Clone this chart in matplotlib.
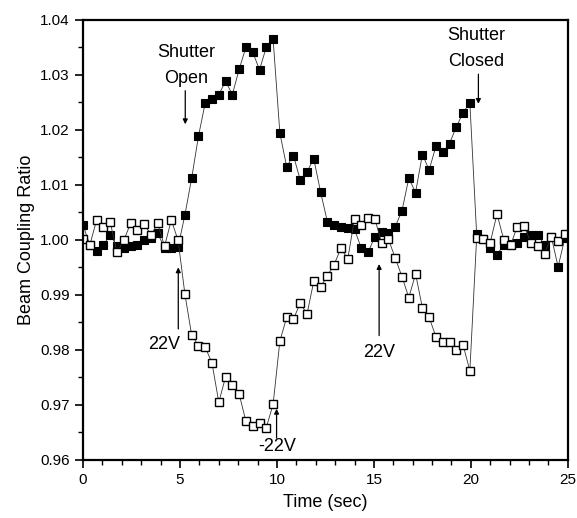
import matplotlib
matplotlib.use("Agg")
import matplotlib.pyplot as plt
from matplotlib.ticker import MultipleLocator

plt.rcParams['font.family'] = ['Liberation Sans', 'DejaVu Sans']

# sample times (sec)
time = [0.00, 0.35, 0.70, 1.05, 1.40, 1.75, 2.10, 2.45, 2.80, 3.15,
        3.50, 3.85, 4.20, 4.55, 4.90, 5.25, 5.60, 5.95, 6.30, 6.65,
        7.00, 7.35, 7.70, 8.05, 8.40, 8.75, 9.10, 9.45, 9.80, 10.15,
        10.50, 10.85, 11.20, 11.55, 11.90, 12.25, 12.60, 12.95, 13.30, 13.65,
        14.00, 14.35, 14.70, 15.05, 15.40, 15.75, 16.10, 16.45, 16.80, 17.15,
        17.50, 17.85, 18.20, 18.55, 18.90, 19.25, 19.60, 19.95, 20.30, 20.65,
        21.00, 21.35, 21.70, 22.05, 22.40, 22.75, 23.10, 23.45, 23.80, 24.15,
        24.50, 24.85]

# filled squares
ratio_filled = [1.0027, 0.9990, 0.9979, 0.9991, 1.0009, 0.9988, 0.9985, 0.9988, 0.9991, 1.0000,
                1.0004, 1.0012, 0.9985, 0.9985, 0.9987, 1.0045, 1.0112, 1.0188, 1.0249, 1.0255,
                1.0264, 1.0288, 1.0264, 1.0310, 1.0350, 1.0341, 1.0309, 1.0350, 1.0365, 1.0194,
                1.0133, 1.0153, 1.0109, 1.0124, 1.0147, 1.0087, 1.0033, 1.0027, 1.0024, 1.0021,
                1.0019, 0.9985, 0.9977, 1.0006, 1.0015, 1.0012, 1.0024, 1.0053, 1.0112, 1.0086,
                1.0155, 1.0127, 1.0170, 1.0159, 1.0175, 1.0205, 1.0231, 1.0249, 1.0010, 1.0001,
                0.9985, 0.9973, 0.9991, 0.9993, 0.9994, 1.0005, 1.0009, 1.0009, 0.9991, 1.0006,
                0.9951, 1.0003]

# open squares
ratio_open = [1.0002, 0.9991, 1.0036, 1.0024, 1.0032, 0.9977, 0.9999, 1.0030, 1.0017, 1.0029,
              1.0009, 1.0030, 0.9988, 1.0036, 0.9999, 0.9902, 0.9827, 0.9808, 0.9805, 0.9776,
              0.9705, 0.9751, 0.9736, 0.9720, 0.9670, 0.9662, 0.9667, 0.9659, 0.9701, 0.9816,
              0.9859, 0.9856, 0.9885, 0.9865, 0.9925, 0.9914, 0.9935, 0.9955, 0.9985, 0.9965,
              1.0038, 1.0027, 1.0039, 1.0038, 0.9994, 1.0001, 0.9967, 0.9933, 0.9895, 0.9938,
              0.9877, 0.9859, 0.9824, 0.9815, 0.9815, 0.9800, 0.9809, 0.9762, 1.0004, 1.0001,
              0.9995, 1.0047, 1.0000, 0.9991, 1.0024, 1.0025, 0.9995, 0.9989, 0.9975, 1.0005,
              0.9997, 1.0010]

fig = plt.figure(figsize=(5.77, 5.18), dpi=100)
ax = fig.add_axes([0.144, 0.112, 0.840, 0.850])

ax.plot(time, ratio_filled, color='#333333', lw=0.6, marker='s', ms=6.4,
        mfc='black', mec='black', mew=0.8)
ax.plot(time, ratio_open, color='#333333', lw=0.6, marker='s', ms=6.4,
        mfc='white', mec='black', mew=1.0)

ax.set_xlim(0, 25)
ax.set_ylim(0.96, 1.04)
ax.xaxis.set_major_locator(MultipleLocator(5))
ax.xaxis.set_minor_locator(MultipleLocator(1))
ax.yaxis.set_major_locator(MultipleLocator(0.01))
ax.yaxis.set_minor_locator(MultipleLocator(0.005))
ax.yaxis.set_major_formatter(matplotlib.ticker.FormatStrFormatter('%.2f'))
ax.tick_params(which='major', direction='out', length=6, width=1.2, labelsize=11)
ax.tick_params(which='minor', direction='out', length=3.5, width=1.0)
for s in ax.spines.values():
    s.set_linewidth(1.6)

ax.set_xlabel('Time (sec)', fontsize=13, labelpad=5)
ax.set_ylabel('Beam Coupling Ratio', fontsize=13)

arrow = dict(arrowstyle='-|>', color='black', lw=0.9, mutation_scale=7)
ax.annotate('', xy=(5.27, 1.0205), xytext=(5.27, 1.0276), arrowprops=arrow)
ax.text(5.34, 1.0316, 'Shutter\nOpen', ha='center', va='center', fontsize=13, linespacing=1.7)

ax.annotate('', xy=(20.39, 1.0242), xytext=(20.39, 1.0306), arrowprops=arrow)
ax.text(20.3, 1.0348, 'Shutter\nClosed', ha='center', va='center', fontsize=13, linespacing=1.7)

ax.annotate('', xy=(4.91, 0.9955), xytext=(4.91, 0.9833), arrowprops=arrow)
ax.text(4.2, 0.9810, '22V', ha='center', va='center', fontsize=13)

ax.annotate('', xy=(9.98, 0.9698), xytext=(9.98, 0.9635), arrowprops=arrow)
ax.text(10.0, 0.9625, '-22V', ha='center', va='center', fontsize=13)

ax.annotate('', xy=(15.27, 0.9961), xytext=(15.27, 0.9821), arrowprops=arrow)
ax.text(15.27, 0.9795, '22V', ha='center', va='center', fontsize=13)

fig.savefig('out.png', dpi=100)
